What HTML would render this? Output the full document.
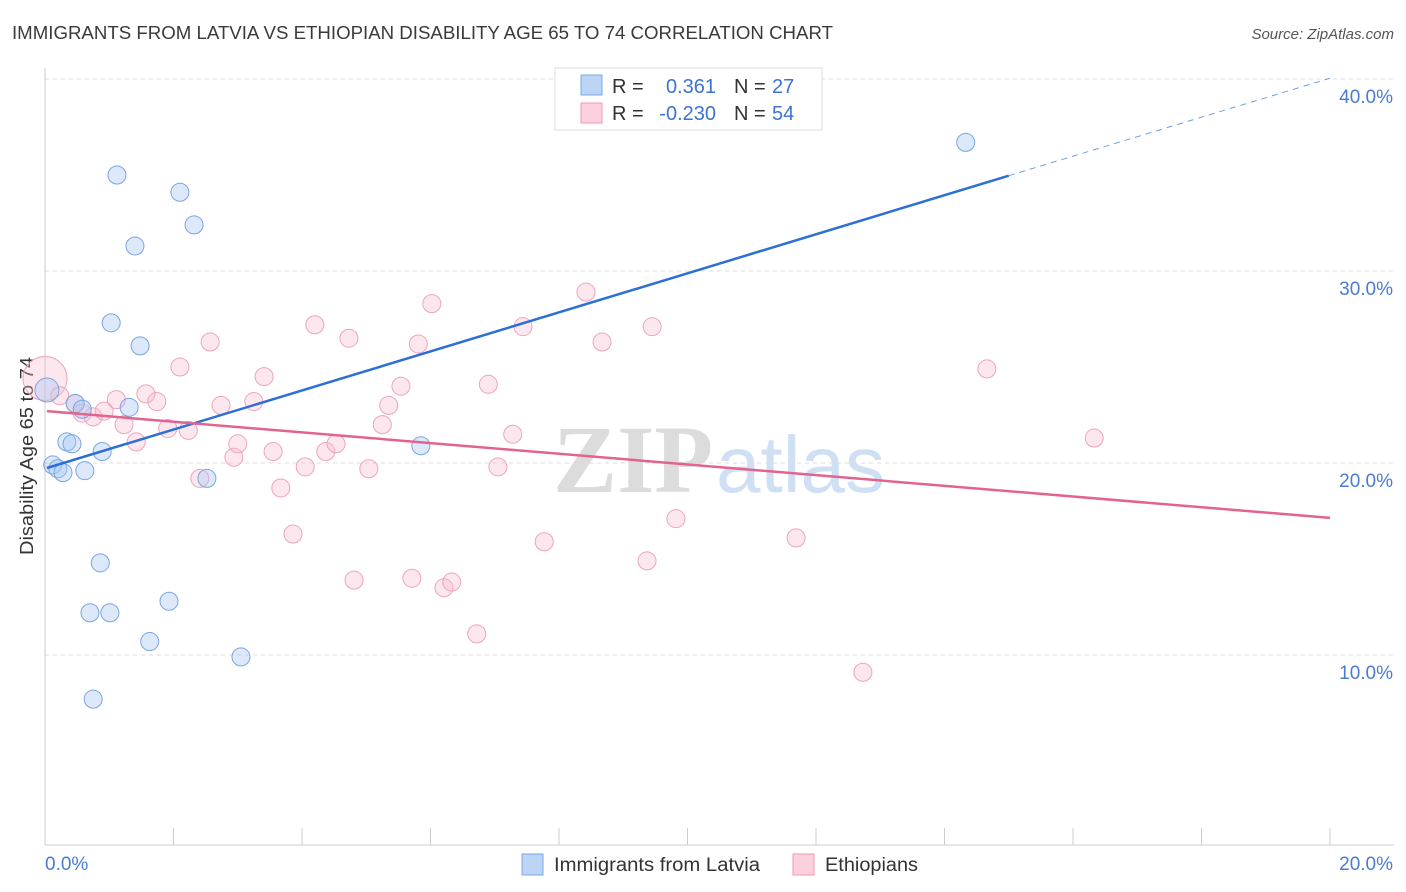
<!DOCTYPE html>
<html><head><meta charset="utf-8"><style>
body{margin:0;background:#fff;font-family:"Liberation Sans",sans-serif;}
svg{display:block}
</style></head><body>
<svg id="c" width="1406" height="892" xmlns="http://www.w3.org/2000/svg" font-family="Liberation Sans, sans-serif">
<text x="12" y="39" font-size="18" fill="#3a3a3a" textLength="821" lengthAdjust="spacingAndGlyphs">IMMIGRANTS FROM LATVIA VS ETHIOPIAN DISABILITY AGE 65 TO 74 CORRELATION CHART</text>
<text x="1394" y="39" font-size="15" fill="#555" font-style="italic" text-anchor="end">Source: ZipAtlas.com</text>
<text x="33" y="456" font-size="18" fill="#333" text-anchor="middle" textLength="198" lengthAdjust="spacingAndGlyphs" transform="rotate(-90 33 456)">Disability Age 65 to 74</text>
<g font-size="96" font-family="Liberation Serif, serif">
<text x="553" y="492" fill="#dcdcdc" font-weight="bold">ZIP</text>
<text x="716" y="492" fill="#d0e0f4" font-family="Liberation Sans, sans-serif" font-size="80">atlas</text>
</g>
<g id="grid"></g><g id="axes"></g><g id="pink"></g><g id="blue"></g><g id="trend"></g>
<g>
<rect x="555" y="68" width="267" height="62" fill="#fff" stroke="#ddd"/>
<rect x="581" y="75" width="21" height="20" fill="#bcd5f5" stroke="#7aa8e8"/>
<rect x="581" y="103" width="21" height="20" fill="#fcd0dd" stroke="#ec9ab4"/>
<text x="612" y="93" font-size="20" fill="#333">R =</text>
<text x="716" y="93" font-size="20" fill="#3b74d4" text-anchor="end">0.361</text>
<text x="734" y="93" font-size="20" fill="#333">N =</text>
<text x="772" y="93" font-size="20" fill="#3b74d4">27</text>
<text x="612" y="120" font-size="20" fill="#333">R =</text>
<text x="716" y="120" font-size="20" fill="#3b74d4" text-anchor="end">-0.230</text>
<text x="734" y="120" font-size="20" fill="#333">N =</text>
<text x="772" y="120" font-size="20" fill="#3b74d4">54</text>
</g>
<g>
<rect x="522" y="854" width="21" height="21" fill="#bcd5f5" stroke="#7aa8e8"/>
<text x="554" y="871" font-size="19" fill="#333" textLength="206" lengthAdjust="spacingAndGlyphs">Immigrants from Latvia</text>
<rect x="793" y="854" width="21" height="21" fill="#fcd0dd" stroke="#ec9ab4"/>
<text x="825" y="871" font-size="19" fill="#333" textLength="93" lengthAdjust="spacingAndGlyphs">Ethiopians</text>
</g>
</svg>
<script>
const blueX=[0.03,1.12,2.10,2.32,1.40,1.03,1.48,0.47,0.58,1.31,0.34,0.42,0.12,0.20,0.28,0.62,0.89,2.52,5.85,14.33,0.86,0.70,1.01,1.93,1.63,3.05,0.75];
const blueY=[23.8,35.0,34.1,32.4,31.3,27.3,26.1,23.1,22.8,22.9,21.1,21.0,19.9,19.7,19.5,19.6,20.6,19.2,20.9,36.7,14.8,12.2,12.2,12.8,10.7,9.9,7.7];
const pinkX=[0.0,0.23,0.47,0.58,0.75,0.92,1.11,1.23,1.42,1.57,1.74,1.91,2.10,2.23,2.41,2.57,2.74,2.94,3.00,3.25,3.41,3.55,3.67,3.86,4.05,4.20,4.37,4.53,4.73,4.81,5.04,5.25,5.35,5.54,5.71,5.81,6.02,6.21,6.33,6.72,6.90,7.05,7.28,7.44,7.77,8.42,8.67,9.37,9.45,9.82,11.69,12.73,14.66,16.33];
const pinkY=[24.4,23.5,23.1,22.6,22.4,22.7,23.3,22.0,21.1,23.6,23.2,21.8,25.0,21.7,19.2,26.3,23.0,20.3,21.0,23.2,24.5,20.6,18.7,16.3,19.8,27.2,20.6,21.0,26.5,13.9,19.7,22.0,23.0,24.0,14.0,26.2,28.3,13.5,13.8,11.1,24.1,19.8,21.5,27.1,15.9,28.9,26.3,14.9,27.1,17.1,16.1,9.1,24.9,21.3];
const yTicks=[10,20,30,40];
const yTickLabels=["10.0%","20.0%","30.0%","40.0%"];
const xTicks=[0,2,4,6,8,10,12,14,16,18,20];
const blueTrend=[19.74,1.015];
const pinkTrend=[22.7,-0.278];
const NS="http://www.w3.org/2000/svg";
const sx=v=>45+v*64.25, sy=v=>847-v*19.2;
function mk(par,tag,a){const e=document.createElementNS(NS,tag);for(const k in a)e.setAttribute(k,a[k]);document.getElementById(par).appendChild(e);return e;}
yTicks.forEach((t,i)=>{
 const g=mk('grid','line',{x1:45,x2:1394,y1:sy(t),y2:sy(t),stroke:'#ddd','stroke-dasharray':'4 4'});
 
 
 const l=mk('grid','text',{x:1393,y:sy(t)+24,'font-size':19,fill:'#4a7cd0','text-anchor':'end'});
 l.textContent=yTickLabels[i];
 
 
});
let a=mk('axes','line',{x1:45,x2:45,y1:68,y2:845,stroke:'#ccc'});


a=mk('axes','line',{x1:45,x2:1394,y1:845,y2:845,stroke:'#ccc'});


xTicks.forEach(t=>{const e=mk('axes','line',{x1:sx(t),x2:sx(t),y1:828,y2:845,stroke:'#ccc'});
 
 });
let t=mk('axes','text',{x:45,y:870,'font-size':19,fill:'#4a7cd0'});t.textContent='0.0%';


t=mk('axes','text',{x:1393,y:870,'font-size':19,fill:'#4a7cd0','text-anchor':'end'});t.textContent='20.0%';


pinkX.forEach((x,i)=>{const c=mk('pink','circle',{cx:sx(x),cy:sy(pinkY[i]),r:i==0?22:9,fill:'rgba(248,185,205,0.35)',stroke:'#eca5bc','stroke-width':1});
 
 });
blueX.forEach((x,i)=>{const c=mk('blue','circle',{cx:sx(x),cy:sy(blueY[i]),r:i==0?12:9,fill:'rgba(170,200,242,0.4)',stroke:'#78a5e2','stroke-width':1});
 
 });
let l=mk('trend','line',{x1:sx(0.03),y1:sy(blueTrend[0]),x2:sx(15),y2:sy(blueTrend[0]+blueTrend[1]*15),stroke:'#2c6fd6','stroke-width':2.5});


l=mk('trend','line',{x1:sx(15),y1:sy(blueTrend[0]+blueTrend[1]*15),x2:sx(20),y2:sy(blueTrend[0]+blueTrend[1]*20),stroke:'#6f9fe0','stroke-width':1,'stroke-dasharray':'6 5'});


l=mk('trend','line',{x1:sx(0.03),y1:sy(pinkTrend[0]),x2:sx(20),y2:sy(pinkTrend[0]+pinkTrend[1]*20),stroke:'#e2648e','stroke-width':2.5});


</script>
</body></html>
